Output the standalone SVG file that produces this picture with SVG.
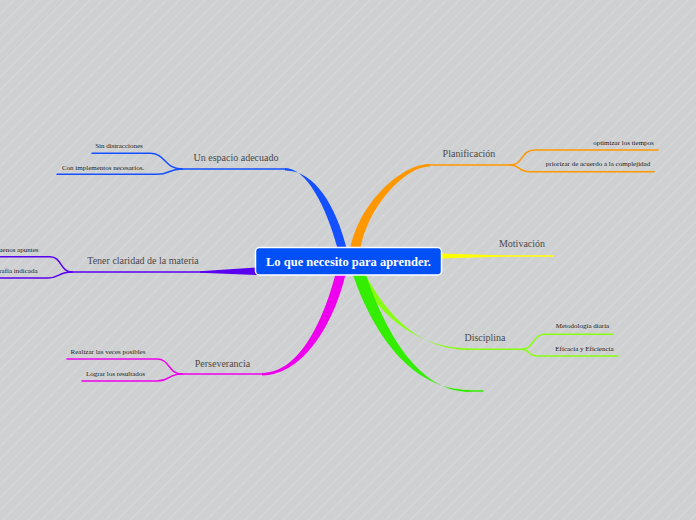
<svg xmlns="http://www.w3.org/2000/svg" width="696" height="520" viewBox="0 0 696 520">
<defs>
<pattern id="bgp" width="9" height="9" patternUnits="userSpaceOnUse" patternTransform="rotate(45)">
<rect width="9" height="9" fill="#cfd0d2"/>
<line x1="0" y1="0" x2="0" y2="9" stroke="#d5d6d8" stroke-width="3"/>
</pattern>
<style>
.lbl{font-family:"Liberation Serif",serif;font-size:10px;fill:#4a4a4a;text-anchor:middle}
.sub{font-family:"Liberation Serif",serif;font-size:7px;fill:#222;text-anchor:middle}
.subE{font-family:"Liberation Serif",serif;font-size:7px;fill:#222;text-anchor:end}
.ln{fill:none;stroke-width:1.5;stroke-linecap:round}
.ctr{font-family:"Liberation Serif",serif;font-size:12.5px;font-weight:bold;fill:#fff;text-anchor:middle}
</style>
</defs>
<rect width="696" height="520" fill="url(#bgp)"/>
<g id="connectors">
<!-- blue -->
<path d="M285,168 C306,168 326,205 338,250 L339.5,258 L350,258 L347,250 C336,205 314,170 285,170.5 Z" fill="#1450ff"/>
<path class="ln" d="M180,169 L286,169" stroke="#1450ff"/>
<path class="ln" d="M92,153.3 L150,153.3 C166,153.3 164,169 182,169" stroke="#1450ff"/>
<path class="ln" d="M57,174.3 L157,174.3 C170,174.3 168,169 182,169" stroke="#1450ff"/>
<!-- orange -->
<path d="M430,164 C400,164 358,205 350,250 L349,258 L359,258 L360,250 C368,205 406,166 430,166.5 Z" fill="#ff9800"/>
<path class="ln" d="M428,165 L510,165" stroke="#ff9800"/>
<path class="ln" d="M510,165 C524,165 520,150 535,150 L658,150" stroke="#ff9800"/>
<path class="ln" d="M510,165 C520,165 518,171.7 530,171.7 L654,171.7" stroke="#ff9800"/>
<!-- purple -->
<path d="M200,271.2 L257,267.5 L257,275 L200,272.8 Z" fill="#5a00f0"/>
<path class="ln" d="M70,272 L204,272" stroke="#5a00f0"/>
<path class="ln" d="M0,256.7 L50,256.7 C62,256.7 60,272 72,272" stroke="#5a00f0"/>
<path class="ln" d="M0,278 L48,278 C60,278 58,272 72,272" stroke="#5a00f0"/>
<!-- yellow -->
<path d="M440,253.5 L440,258.5 L500,256.7 L500,255.3 Z" fill="#ffff00"/>
<path class="ln" d="M441,256 L553,256" stroke="#ffff00"/>
<!-- magenta -->
<path d="M262,373 C300,373 325,318 337,268 L338,264 L348,264 L347,268 C336,320 305,375 262,375.5 Z" fill="#ee00ee"/>
<path class="ln" d="M180,374 L264,374" stroke="#ee00ee"/>
<path class="ln" d="M67,359 L157,359 C170,359 168,374 182,374" stroke="#ee00ee"/>
<path class="ln" d="M82,381 L157,381 C170,381 168,374 182,374" stroke="#ee00ee"/>
<!-- lime -->
<path d="M355,270 C380,318 418,348 470,348.5 L470,350 C420,350 388,318 363,270 Z" fill="#88ff11"/>
<path class="ln" d="M466,349.3 L522,349.3" stroke="#88ff11"/>
<path class="ln" d="M522,349.3 C534,349.3 532,334.3 545,334.3 L613,334.3" stroke="#88ff11"/>
<path class="ln" d="M522,349.3 C530,349.3 528,356 537,356 L618,356" stroke="#88ff11"/>
<!-- green -->
<path d="M350,266 C372,335 412,390 470,390 L470,392 C420,392 385,335 363,266 Z" fill="#33ee00"/>
<path class="ln" d="M466,391 L483,391" stroke="#33ee00"/>
</g>
<g id="n-center">
<rect x="255.5" y="247.5" width="186" height="27.5" rx="4" fill="#0050f5" stroke="#ffffff" stroke-width="1.5"/>
<text class="ctr" x="348.5" y="265.5">Lo que necesito para aprender.</text>
</g>
<g id="n-espacio"><text class="lbl" x="236" y="161">Un espacio adecuado</text></g>
<g id="n-sin"><text class="sub" x="119" y="148">Sin distracciones</text></g>
<g id="n-con"><text class="sub" x="103" y="169.5">Con implementos necesarios.</text></g>
<g id="n-claridad"><text class="lbl" x="143" y="263.5">Tener claridad de la materia</text></g>
<g id="n-apuntes"><text class="subE" x="38.5" y="251.5">uenos apuntes</text></g>
<g id="n-bibliografia"><text class="subE" x="37.5" y="273">rafía indicada</text></g>
<g id="n-perseverancia"><text class="lbl" x="222.5" y="367">Perseverancia</text></g>
<g id="n-realizar"><text class="sub" x="108" y="354">Realizar las veces posibles</text></g>
<g id="n-lograr"><text class="sub" x="115.5" y="375.5">Lograr los resultados</text></g>
<g id="n-planificacion"><text class="lbl" x="469" y="157">Planificación</text></g>
<g id="n-optimizar"><text class="sub" x="623.5" y="145">optimizar los tiempos</text></g>
<g id="n-priorizar"><text class="sub" x="598" y="166">priorizar de acuerdo a la complejidad</text></g>
<g id="n-motivacion"><text class="lbl" x="522" y="247">Motivación</text></g>
<g id="n-disciplina"><text class="lbl" x="485" y="341">Disciplina</text></g>
<g id="n-metodologia"><text class="sub" x="582.5" y="328">Metodología diaria</text></g>
<g id="n-eficacia"><text class="sub" x="584.5" y="350.5">Eficacia y Eficiencia</text></g>
</svg>
